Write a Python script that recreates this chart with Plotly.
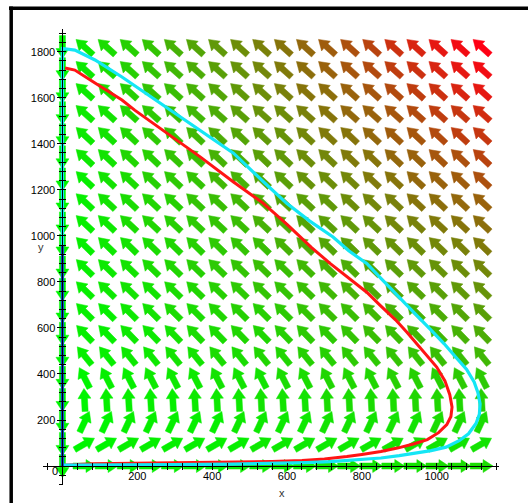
import math
import plotly.graph_objects as go

# ---------------- data ----------------
# direction-field grid (20 x 20 arrows)
x_cols = [0, 59, 118, 177, 236, 295, 354, 413, 472, 531, 589, 648, 707, 766, 825, 884, 943, 1002, 1061, 1120]
y_rows = [0, 96, 192, 287, 383, 479, 575, 671, 766, 862, 958, 1054, 1149, 1245, 1341, 1437, 1533, 1628, 1724, 1820]
# screen direction of the arrows in each row (degrees, counter-clockwise from +x)
row_angle_deg = [0, 30, 65, 93, 117, 129, 134, 135, 136, 136, 136, 137, 137, 137, 137, 137, 138, 138, 138, 138]
axis_column_angle_deg = 270          # arrows on the y axis (x = 0) point down
# relative speed (0 = green, 1 = red) of the right-most arrow of each row
row_speed = [0.10, 0.08, 0.10, 0.14, 0.18, 0.24, 0.29, 0.34, 0.40, 0.45,
             0.50, 0.56, 0.61, 0.67, 0.72, 0.78, 0.83, 0.89, 0.94, 1.00]

# trajectories
red_x = [7, 33, 87, 159, 193, 279, 368, 457, 536, 600, 665, 715, 760, 813, 851, 890, 921, 960, 1000,
         1022, 1035, 1041, 1038, 1027, 1005, 975, 940, 895, 851, 800, 760, 700, 640, 560, 450, 350,
         250, 150, 80, 30, 0]
red_y = [1729, 1720, 1664, 1590, 1546, 1447, 1343, 1234, 1142, 1050, 950, 880, 821, 755, 695, 635, 580,
         505, 430, 370, 310, 256, 215, 180, 145, 115, 97, 78, 63, 50, 41, 31, 24, 20, 18, 17, 15, 13,
         10, 6, 3]
cyan_x = [0, 0, 33, 87, 159, 248, 320, 400, 457, 537, 600, 660, 723, 765, 813, 851, 900, 940, 985,
          1020, 1050, 1080, 1100, 1110, 1116, 1114, 1105, 1085, 1060, 1025, 985, 945, 900, 851, 790,
          717, 650, 592, 450, 300, 150, 0]
cyan_y = [4, 1814, 1807, 1764, 1690, 1590, 1510, 1420, 1359, 1235, 1140, 1065, 995, 935, 880, 815,
          735, 665, 590, 531, 475, 420, 365, 320, 270, 225, 185, 140, 110, 82, 67, 56, 45, 35, 27,
          19, 15, 12, 8, 6, 5, 4]
blue_x = [0, 0]
blue_y = [960, 0]

x_ticks = [200, 400, 600, 800, 1000]
y_ticks = [200, 400, 600, 800, 1000, 1200, 1400, 1600, 1800]
minor_step = 40

# ---------------- layout geometry ----------------
W, H = 528, 503
PX_PER_X = 0.37425      # pixels per x unit
PX_PER_Y = 0.2302       # pixels per y unit
X0_PX = 62.45           # pixel column of x = 0
Y0_PX = 466.04          # pixel row of y = 0
XDOM_PX = (43, 499)     # x-axis extent in pixels
YDOM_PX = (29, 485)     # y-axis extent in pixels (top, bottom)

x_range = [(XDOM_PX[0] - X0_PX) / PX_PER_X, (XDOM_PX[1] - X0_PX) / PX_PER_X]
y_range = [(Y0_PX - YDOM_PX[1]) / PX_PER_Y, (Y0_PX - YDOM_PX[0]) / PX_PER_Y]
x_domain = [XDOM_PX[0] / W, XDOM_PX[1] / W]
y_domain = [(H - YDOM_PX[1]) / H, (H - YDOM_PX[0]) / H]
x_axis_pos = (H - Y0_PX) / H
y_axis_pos = X0_PX / W

# arrow shape (pixels)
L, HL, HW, SW = 23.0, 10.0, 6.5, 3.0


def arrow_poly(cx, cy, ang_deg):
    a = math.radians(ang_deg)
    ux, uy = math.cos(a), math.sin(a)
    nx, ny = -uy, ux
    local = [(-L / 2, -SW), (L / 2 - HL, -SW), (L / 2 - HL, -HW), (L / 2, 0),
             (L / 2 - HL, HW), (L / 2 - HL, SW), (-L / 2, SW), (-L / 2, -SW)]
    xs, ys = [], []
    for s, t in local:
        px = s * ux + t * nx
        py = s * uy + t * ny
        xs.append(cx + px / PX_PER_X)
        ys.append(cy + py / PX_PER_Y)
    return xs, ys


def colour(t):
    g0 = (0, 245, 0)
    r1 = (255, 0, 20)
    c = [round(g0[k] + (r1[k] - g0[k]) * t) for k in range(3)]
    return "rgb(%d,%d,%d)" % tuple(c)


groups = {}
xmax = max(x_cols)
for j, yv in enumerate(y_rows):
    for xv in x_cols:
        if xv == 0:
            ang = axis_column_angle_deg
            t = 0.0
        else:
            ang = row_angle_deg[j]
            t = row_speed[j] * xv / xmax
        col = colour(round(t * 40) / 40)
        xs, ys = arrow_poly(xv, yv, ang)
        gx, gy = groups.setdefault(col, ([], []))
        gx.extend(xs + [None])
        gy.extend(ys + [None])

fig = go.Figure()
for col, (gx, gy) in groups.items():
    fig.add_trace(go.Scatter(x=gx, y=gy, mode="lines", fill="toself", fillcolor=col,
                             line=dict(color=col, width=0.5), hoverinfo="skip", showlegend=False))

fig.add_trace(go.Scatter(x=red_x, y=red_y, mode="lines", line=dict(color="rgb(255,20,20)", width=3),
                         hoverinfo="skip", showlegend=False))
fig.add_trace(go.Scatter(x=cyan_x, y=cyan_y, mode="lines", line=dict(color="rgb(20,230,245)", width=3.2),
                         hoverinfo="skip", showlegend=False))
fig.add_trace(go.Scatter(x=blue_x, y=blue_y, mode="lines", line=dict(color="rgb(20,20,190)", width=2.5),
                         hoverinfo="skip", showlegend=False))
# dummy trace for the overlay axes that draw the inner halves of the ticks
fig.add_trace(go.Scatter(x=[None], y=[None], xaxis="x2", yaxis="y2", showlegend=False, hoverinfo="skip"))

all_x = [v for v in range(-40, 1200, minor_step) if v != 0]
all_y = [v for v in range(-80, 1900, minor_step) if v != 0]
minor_y = [v for v in all_y if v not in y_ticks]

font = dict(family="Liberation Sans, Arial, sans-serif", size=11, color="black")
title_font = dict(family="Liberation Sans, Arial, sans-serif", size=11, color="#333")

fig.update_layout(
    width=W, height=H,
    margin=dict(l=0, r=0, t=0, b=0, autoexpand=False),
    paper_bgcolor="white", plot_bgcolor="white", showlegend=False,
    font=font,
    xaxis=dict(domain=x_domain, range=x_range, anchor="free", position=x_axis_pos,
               showline=True, linecolor="black", linewidth=1, showgrid=False, zeroline=False,
               tickmode="array", tickvals=x_ticks, ticks="", tickfont=font,
               minor=dict(tickmode="array", tickvals=all_x, ticks="outside", ticklen=3,
                          tickcolor="black", showgrid=False)),
    yaxis=dict(domain=y_domain, range=y_range, anchor="free", position=y_axis_pos,
               showline=True, linecolor="black", linewidth=1, showgrid=False, zeroline=False,
               tickmode="array", tickvals=y_ticks, ticks="outside", ticklen=5, tickcolor="black",
               tickfont=font,
               minor=dict(tickmode="array", tickvals=minor_y, ticks="outside", ticklen=3,
                          tickcolor="black", showgrid=False)),
    xaxis2=dict(domain=x_domain, range=x_range, anchor="free", position=x_axis_pos, overlaying="x",
                showline=False, showgrid=False, zeroline=False, showticklabels=False,
                tickmode="array", tickvals=all_x, ticks="inside", ticklen=3, tickcolor="black"),
    yaxis2=dict(domain=y_domain, range=y_range, anchor="free", position=y_axis_pos, overlaying="y",
                showline=False, showgrid=False, zeroline=False, showticklabels=False,
                tickmode="array", tickvals=all_y, ticks="inside", ticklen=3, tickcolor="black"),
    annotations=[
        dict(text="0", x=-20, y=-21, xref="x", yref="y", showarrow=False, font=font,
             xanchor="center", yanchor="middle"),
        dict(text="x", x=282 / W, y=1 - 493 / H, xref="paper", yref="paper", showarrow=False,
             font=title_font, xanchor="center", yanchor="middle"),
        dict(text="y", x=41 / W, y=1 - 247 / H, xref="paper", yref="paper", showarrow=False,
             font=title_font, xanchor="center", yanchor="middle"),
    ],
    shapes=[
        dict(type="line", xref="paper", yref="paper", x0=9 / W, x1=1.0, y0=1 - 8.3 / H, y1=1 - 8.3 / H,
             line=dict(color="black", width=3.5)),
        dict(type="line", xref="paper", yref="paper", x0=11.2 / W, x1=11.2 / W, y0=0, y1=1 - 6.5 / H,
             line=dict(color="black", width=3.5)),
    ],
)

fig.write_html("out.html", config={"displayModeBar": False},
               post_script="document.body.style.margin='0px';document.body.style.overflow='hidden';")
